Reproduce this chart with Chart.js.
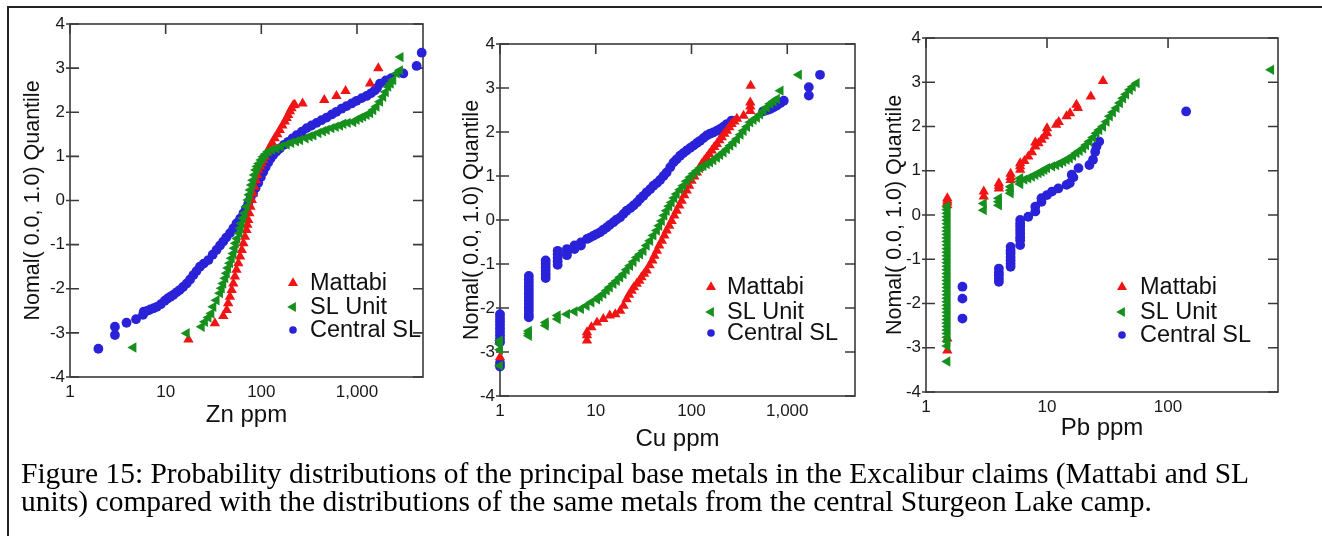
<!DOCTYPE html>
<html><head><meta charset="utf-8">
<script src="https://cdn.jsdelivr.net/npm/chart.js@4.4.1/dist/chart.umd.min.js"></script>
<style>
html,body{margin:0;padding:0;background:#fff;}
body{width:1322px;height:536px;position:relative;overflow:hidden;}
#frame{position:absolute;left:7px;top:6px;width:1400px;height:600px;border-top:2px solid #222;border-left:2px solid #222;}
canvas{position:absolute;}
#cap{position:absolute;left:21px;top:459px;font-family:'Liberation Serif','Times New Roman',serif;font-size:29.5px;line-height:28px;color:#000;white-space:nowrap;z-index:5;}
</style></head><body>
<div id="frame"></div>
<canvas id="c1" width="440" height="450" style="left:0;top:0"></canvas>
<canvas id="c2" width="440" height="470" style="left:440px;top:0"></canvas>
<canvas id="c3" width="462" height="470" style="left:860px;top:0"></canvas>
<div id="cap">Figure 15: Probability distributions of the principal base metals in the Excalibur claims (Mattabi and SL<br>units) compared with the distributions of the same metals from the central Sturgeon Lake camp.</div>
<script>
// ---- series names & axis labels ----
const seriesNames = ['Mattabi', 'SL Unit', 'Central SL'];
const yTitle = 'Nomal( 0.0, 1.0) Quantile';
const xTitles = ['Zn ppm', 'Cu ppm', 'Pb ppm'];
const xTicksZnCu = [1, 10, 100, 1000];
const xTicksPb = [1, 10, 100];
const xTickLabels = {1: '1', 10: '10', 100: '100', 1000: '1,000'};
const yTicks = [-4, -3, -2, -1, 0, 1, 2, 3, 4];

// ---- Zn panel: [ppm, normal quantile] ----
const znMattabi = [[17.3,-3.15],[32.7,-2.78],[40,-2.62],[43.5,-2.48],[45,-2.33],[47,-2.18],[49,-2.03],[51,-1.88],[53,-1.72],[55,-1.57],[57.5,-1.42],[60,-1.27],[62.5,-1.12],[65,-0.97],[67.5,-0.82],[70,-0.67],[71.5,-0.55],[73,-0.44],[75,-0.29],[77,-0.14],[79.5,0.01],[82,0.16],[85,0.31],[88,0.46],[90.5,0.58],[93,0.69],[97,0.77],[101,0.84],[105,0.92],[109,0.99],[116,1.10],[123,1.22],[130,1.31],[138,1.41],[147,1.50],[156,1.60],[166,1.70],[176,1.79],[184,1.87],[191,1.94],[199,2.02],[207,2.09],[216,2.16],[224,2.17],[270,2.20],[455,2.28],[610,2.37],[760,2.48],[1370,2.65],[1670,3.00]];
const znSLUnit = [[4.6,-3.33],[16.6,-3.01],[23.8,-2.86],[25.7,-2.75],[28,-2.65],[30,-2.56],[31.5,-2.41],[34,-2.26],[37,-2.10],[38.5,-1.99],[40,-1.88],[42,-1.76],[43.5,-1.65],[45,-1.53],[47,-1.42],[49,-1.31],[51,-1.20],[52.5,-1.08],[54,-0.97],[56,-0.86],[59,-0.74],[60.5,-0.63],[62,-0.52],[64.5,-0.40],[67,-0.29],[70,-0.14],[73,0.01],[75,0.13],[77,0.24],[79.5,0.35],[82,0.46],[85,0.58],[88,0.69],[91,0.77],[95,0.84],[100,0.92],[105,0.99],[111,1.05],[118,1.11],[130,1.15],[144,1.18],[160,1.22],[184,1.27],[205,1.31],[230,1.34],[254,1.37],[290,1.41],[320,1.45],[350,1.48],[395,1.53],[440,1.57],[482,1.60],[540,1.64],[600,1.67],[664,1.70],[720,1.74],[800,1.76],[914,1.78],[990,1.83],[1080,1.87],[1160,1.90],[1260,1.94],[1370,1.98],[1480,2.05],[1600,2.13],[1740,2.24],[1880,2.35],[2000,2.46],[2120,2.58],[2250,2.65],[2390,2.73],[2600,2.88],[2810,2.95],[2850,3.25]];
const znCentral = [[1.98,-3.36],[2.95,-3.05],[2.95,-2.86],[3.9,-2.77],[4.9,-2.69],[5.8,-2.59],[5.9,-2.52],[6.4,-2.50],[6.9,-2.47],[7.5,-2.44],[8.1,-2.41],[8.9,-2.35],[9.8,-2.27],[10.5,-2.22],[11.2,-2.18],[12,-2.14],[13,-2.08],[14,-2.03],[15.2,-1.96],[16.6,-1.88],[18,-1.79],[19.5,-1.69],[21,-1.60],[22.8,-1.50],[25,-1.43],[28,-1.35],[31,-1.23],[34,-1.12],[37,-1.02],[40,-0.93],[43,-0.84],[47,-0.74],[51,-0.63],[55,-0.52],[60,-0.41],[65,-0.29],[69,-0.18],[73,-0.08],[77,0.04],[82,0.16],[87,0.28],[93,0.40],[99,0.53],[105,0.65],[111,0.76],[118,0.86],[125,0.95],[133,1.03],[144,1.11],[156,1.18],[172,1.26],[191,1.33],[212,1.41],[234,1.48],[265,1.56],[298,1.64],[335,1.70],[378,1.76],[425,1.82],[482,1.88],[545,1.95],[610,2.01],[690,2.08],[779,2.14],[880,2.20],[990,2.26],[1120,2.32],[1260,2.37],[1400,2.43],[1530,2.49],[1620,2.55],[1740,2.65],[2000,2.72],[2280,2.77],[3050,2.88],[4200,3.05],[4750,3.35]];

// ---- Cu panel ----
const cuMattabi = [[1,-3.12],[8.1,-2.74],[8.1,-2.62],[8.1,-2.55],[9,-2.44],[10.3,-2.33],[12,-2.25],[14,-2.17],[16,-2.14],[18,-2.06],[19.5,-1.95],[21,-1.80],[22.3,-1.70],[23.7,-1.61],[25,-1.53],[26.8,-1.45],[28.5,-1.38],[30,-1.30],[32,-1.22],[34,-1.15],[36.5,-1.03],[39,-0.92],[41,-0.81],[43.5,-0.70],[46,-0.58],[49,-0.47],[52,-0.35],[55,-0.24],[58.5,-0.13],[62,-0.02],[66,0.10],[70,0.21],[74.5,0.33],[79,0.44],[84,0.56],[89,0.67],[94.5,0.78],[100,0.89],[107,0.99],[114,1.08],[121,1.18],[128,1.27],[136,1.35],[144,1.42],[153,1.50],[163,1.58],[173,1.66],[184,1.73],[195,1.81],[207,1.88],[220,1.96],[234,2.03],[248,2.11],[262,2.18],[280,2.24],[298,2.30],[350,2.37],[411,2.48],[411,2.58],[411,2.67],[415,3.05]];
const cuSLUnit = [[1,-2.74],[1,-2.82],[1,-2.95],[1,-3.31],[2,-2.52],[2,-2.58],[2,-2.63],[3,-2.33],[3,-2.40],[4,-2.17],[4,-2.25],[5,-2.14],[6,-2.08],[7,-2.02],[8,-1.95],[9,-1.87],[10.3,-1.80],[11,-1.74],[12,-1.68],[13,-1.60],[14,-1.53],[15.3,-1.45],[16.6,-1.38],[18,-1.30],[19.5,-1.23],[21,-1.13],[22.8,-1.04],[24.8,-0.95],[26.8,-0.85],[29,-0.78],[31.5,-0.70],[34,-0.58],[37,-0.47],[40,-0.35],[43.5,-0.24],[46,-0.13],[49,-0.02],[52,0.10],[55,0.21],[58.5,0.31],[62,0.40],[66,0.50],[70,0.59],[76,0.69],[82,0.78],[89,0.88],[97,0.97],[105,1.05],[114,1.12],[123,1.18],[133,1.23],[144,1.27],[156,1.31],[169,1.36],[184,1.42],[199,1.48],[216,1.54],[234,1.61],[254,1.69],[275,1.76],[298,1.84],[325,1.94],[350,2.03],[380,2.12],[411,2.22],[445,2.28],[482,2.33],[520,2.40],[565,2.48],[610,2.56],[664,2.64],[720,2.70],[779,2.75],[850,2.94],[1320,3.30]];
const cuCentral = [[1,-2.14],[1,-2.22],[1,-2.30],[1,-2.38],[1,-2.46],[1,-2.54],[1,-2.62],[1,-2.70],[1,-2.78],[1,-3.25],[1,-3.33],[2,-1.27],[2,-1.35],[2,-1.43],[2,-1.51],[2,-1.59],[2,-1.67],[2,-1.75],[2,-1.83],[2,-1.91],[2,-1.99],[2,-2.07],[2,-2.15],[2,-2.21],[3,-0.92],[3,-1.00],[3,-1.08],[3,-1.16],[3,-1.24],[3,-1.32],[4,-0.70],[4,-0.78],[4,-0.86],[4,-0.94],[4,-1.02],[5,-0.66],[5,-0.74],[5,-0.80],[6,-0.58],[6,-0.66],[7,-0.51],[7,-0.58],[8.1,-0.43],[8.7,-0.40],[9.4,-0.36],[10.2,-0.32],[11.1,-0.28],[12,-0.22],[13,-0.17],[14,-0.11],[15.3,-0.05],[16.5,0.01],[18,0.06],[19.5,0.14],[21,0.21],[23,0.27],[24.8,0.33],[27,0.40],[29,0.48],[31.5,0.55],[34,0.63],[37,0.70],[40,0.78],[43.5,0.84],[47,0.91],[51,1.00],[55,1.08],[60,1.20],[65,1.31],[70,1.38],[76,1.46],[82,1.52],[89,1.58],[97,1.64],[105,1.69],[114,1.75],[123,1.80],[133,1.86],[144,1.92],[156,1.96],[169,1.99],[184,2.03],[199,2.07],[216,2.12],[234,2.18],[262,2.26],[560,2.47],[620,2.50],[664,2.52],[720,2.56],[779,2.60],[850,2.66],[920,2.71],[1680,2.83],[1680,3.02],[2200,3.30]];

// ---- Pb panel ----
const pbMattabi = [[1.5,-3.06],[1.5,-2.79],[1.5,0.22],[1.5,0.28],[1.5,0.33],[1.5,0.38],[3,0.42],[3,0.53],[4,0.60],[4,0.66],[4,0.72],[5,0.79],[5,0.86],[5,0.93],[6,1.02],[6,1.10],[6,1.17],[6.5,1.22],[7,1.32],[7.5,1.42],[8,1.55],[8,1.64],[8.5,1.62],[9,1.70],[9.5,1.78],[10,1.85],[10,1.96],[11.9,2.04],[12.5,2.10],[14.5,2.23],[15.5,2.30],[18,2.42],[17.5,2.49],[23,2.68],[29,3.03]];
const pbSLUnit = [[1.5,0.20],[1.5,0.12],[1.5,0.04],[1.5,-0.04],[1.5,-0.12],[1.5,-0.20],[1.5,-0.28],[1.5,-0.36],[1.5,-0.44],[1.5,-0.52],[1.5,-0.60],[1.5,-0.68],[1.5,-0.76],[1.5,-0.84],[1.5,-0.92],[1.5,-1.00],[1.5,-1.08],[1.5,-1.16],[1.5,-1.24],[1.5,-1.32],[1.5,-1.40],[1.5,-1.48],[1.5,-1.56],[1.5,-1.64],[1.5,-1.72],[1.5,-1.80],[1.5,-1.88],[1.5,-1.96],[1.5,-2.04],[1.5,-2.12],[1.5,-2.20],[1.5,-2.28],[1.5,-2.36],[1.5,-2.44],[1.5,-2.52],[1.5,-2.60],[1.5,-2.68],[1.5,-2.76],[1.5,-2.86],[1.5,-2.96],[1.5,-3.31],[3,0.26],[3,0.11],[4,0.38],[4,0.30],[4,0.22],[5,0.64],[5,0.56],[5,0.49],[6,0.83],[6,0.76],[6,0.70],[6.5,0.80],[7,0.83],[7.5,0.87],[8,0.91],[8.5,0.95],[9,0.98],[9.5,1.02],[10,1.06],[11,1.10],[11.9,1.13],[12.8,1.17],[13.6,1.21],[14.5,1.25],[15.4,1.28],[16.4,1.34],[17.5,1.40],[18.6,1.45],[19.9,1.51],[21,1.58],[22.4,1.66],[24,1.75],[25.6,1.85],[27,1.92],[29,2.00],[31,2.11],[33,2.23],[35,2.32],[37.5,2.42],[40,2.53],[42.5,2.64],[45,2.73],[48.3,2.83],[51,2.90],[55,2.98],[710,3.28]];
const pbCentral = [[2,-1.62],[2,-1.89],[2,-2.34],[4,-1.21],[4,-1.30],[4,-1.36],[4,-1.44],[4,-1.51],[5,-0.72],[5,-0.80],[5,-0.87],[5,-0.95],[5,-1.02],[5,-1.10],[5,-1.17],[6,-0.11],[6,-0.19],[6,-0.26],[6,-0.34],[6,-0.42],[6,-0.50],[6,-0.57],[6,-0.68],[7,-0.04],[8,0.08],[8,0.19],[9,0.30],[9,0.38],[10,0.45],[11,0.53],[12.4,0.60],[14.5,0.68],[15.4,0.72],[16.5,0.85],[16,0.91],[18.2,1.06],[22.4,1.13],[24,1.25],[25,1.43],[25.6,1.55],[27,1.66],[141,2.34]];

// ---- styling ----
const RED = '#f01414', GREEN = '#16901c', BLUE = '#2a22d8';
const FONT = "'Liberation Sans', Arial, Helvetica, sans-serif";
Chart.defaults.font.family = FONT;
Chart.defaults.color = '#1a1a1a';

const toXY = arr => arr.map(p => ({x: p[0], y: p[1]}));

function drawMarker(ctx, kind, x, y, r) {
  ctx.beginPath();
  if (kind === 'circle') { ctx.arc(x, y, r, 0, Math.PI * 2); }
  else {
    const rot = kind === 'left' ? -Math.PI / 2 : 0;
    for (let i = 0; i < 3; i++) {
      const a = rot + i * 2 * Math.PI / 3;
      const px = x + Math.sin(a) * r, py = y - Math.cos(a) * r;
      if (i === 0) ctx.moveTo(px, py); else ctx.lineTo(px, py);
    }
    ctx.closePath();
  }
  ctx.fill();
}

const decor = {
  id: 'decor',
  beforeDatasetsDraw(chart) {
    const {ctx, chartArea: a, scales: {x, y}} = chart;
    ctx.save();
    ctx.strokeStyle = '#3a3a3a';
    ctx.lineWidth = 1.6;
    ctx.strokeRect(a.left, a.top, a.right - a.left, a.bottom - a.top);
    ctx.beginPath();
    y.ticks.forEach(t => {
      const py = y.getPixelForValue(t.value);
      ctx.moveTo(a.left - 4, py); ctx.lineTo(a.left + 9, py);
      ctx.moveTo(a.right - 10, py); ctx.lineTo(a.right, py);
    });
    x.ticks.forEach(t => {
      const px = x.getPixelForValue(t.value);
      ctx.moveTo(px, a.top); ctx.lineTo(px, a.top + 10);
    });
    ctx.stroke();
    ctx.restore();
  },
  afterDatasetsDraw(chart, args, opts) {
    const {ctx, chartArea: a} = chart;
    const mx = a.right - opts.dx, ys = opts.rows.map(d => a.bottom - d);
    const kinds = [['up', RED, 5.8], ['left', GREEN, 5.8], ['circle', BLUE, 3.8]];
    ctx.save();
    ctx.font = '23.5px ' + FONT;
    ctx.textBaseline = 'middle';
    seriesNames.forEach((name, i) => {
      ctx.fillStyle = kinds[i][1];
      drawMarker(ctx, kinds[i][0], mx, ys[i], kinds[i][2]);
      ctx.fillStyle = '#111';
      ctx.fillText(name, mx + opts.tx, ys[i] + 1);
    });
    ctx.restore();
  }
};

function makePanel(id, data, xTicks, xMax, title, pad, yTitlePad, xTitlePad, legend) {
  const datasets = [
    {label: seriesNames[0], data: toXY(data[0]), pointStyle: 'triangle', pointRadius: 6, rotation: 0, backgroundColor: RED, borderWidth: 0, order: 1, clip: false},
    {label: seriesNames[1], data: toXY(data[1]), pointStyle: 'triangle', pointRadius: 6, rotation: -90, backgroundColor: GREEN, borderWidth: 0, order: 0, clip: false},
    {label: seriesNames[2], data: toXY(data[2]), pointStyle: 'circle', pointRadius: 4.9, backgroundColor: BLUE, borderWidth: 0, order: 2, clip: false}
  ];
  return new Chart(document.getElementById(id), {
    type: 'scatter',
    data: {datasets},
    plugins: [decor],
    options: {
      responsive: false, animation: false, devicePixelRatio: 1,
      layout: {padding: pad},
      plugins: {legend: {display: false}, tooltip: {enabled: false}, decor: legend},
      scales: {
        x: {
          type: 'logarithmic', min: 1, max: xMax,
          afterBuildTicks: s => { s.ticks = xTicks.map(v => ({value: v})); },
          afterFit: s => { s.height = 60; },
          grid: {display: false, drawTicks: false}, border: {display: false},
          ticks: {padding: 5, font: {size: 17}, color: '#1a1a1a', autoSkip: false, maxRotation: 0,
                  callback: v => xTickLabels[v] ?? ''},
          title: {display: true, text: title, font: {size: 24}, color: '#111', padding: {top: 0, bottom: xTitlePad}}
        },
        y: {
          type: 'linear', min: -4, max: 4,
          afterBuildTicks: s => { s.ticks = yTicks.map(v => ({value: v})); },
          afterFit: s => { s.width = 60; },
          grid: {display: false, drawTicks: false}, border: {display: false},
          ticks: {padding: 5, font: {size: 17}, color: '#1a1a1a', callback: v => String(v)},
          title: {display: true, text: yTitle, font: {size: 21.5}, color: '#111', padding: {top: yTitlePad, bottom: 0}}
        }
      }
    }
  });
}

makePanel('c1', [znMattabi, znSLUnit, znCentral], xTicksZnCu, 4900, xTitles[0],
  {left: 10, top: 24, right: 17, bottom: 13}, 10, 7.6, {dx: 130, tx: 17, rows: [94, 70, 47]});
makePanel('c2', [cuMattabi, cuSLUnit, cuCentral], xTicksZnCu, 5100, xTitles[1],
  {left: 0, top: 44, right: 25, bottom: 14}, 19, 2.6, {dx: 144, tx: 16, rows: [109, 84, 63]});
makePanel('c3', [pbMattabi, pbSLUnit, pbCentral], xTicksPb, 810, xTitles[2],
  {left: 6, top: 38, right: 44, bottom: 18}, 16, 9.6, {dx: 156, tx: 18, rows: [105, 80, 57]});
</script>
</body></html>
